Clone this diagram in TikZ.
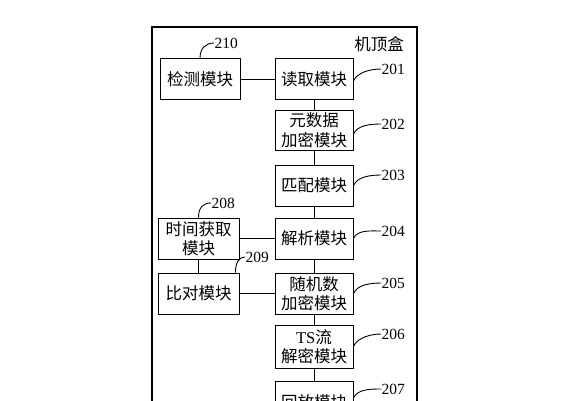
\documentclass[tikz,border=0pt]{standalone}
\usepackage{fontspec}
\setmainfont{Liberation Serif}
\newfontfamily\cjk{Noto Sans CJK SC}
\usetikzlibrary{positioning}

\tikzset{
  module/.style={draw, line width=0.9pt, minimum width=78pt, minimum height=41pt,
    inner sep=1pt, align=center, font=\cjk\fontsize{16.5}{19.5}\selectfont},
  leader/.style={line width=0.9pt},
  tag/.style={anchor=west, inner sep=0.5pt, font=\fontsize{15.5}{17}\selectfont},
}

\begin{document}
\begin{tikzpicture}[x=1pt,y=-1pt]
    \useasboundingbox (0,0) rectangle (583,400);
    \clip (0,0) rectangle (583,400);

    % Set-top box frame
    \draw[line width=1.2pt] (152,27) rectangle (417,440);
    \node[font=\cjk\fontsize{16.5}{17}\selectfont, inner sep=0pt] (stb) at (379,44) {机顶盒};

    % Main chain
    \node[module] (read)  at (314,79)    {读取模块};
    \node[module, minimum height=40pt] (meta) at (314,130) {元数据\\加密模块};
    \node[module] (match) at (314,185.5) {匹配模块};
    \node[module] (parse) at (314,238.5) {解析模块};
    \node[module] (rand)  at (314,293.5) {随机数\\加密模块};
    \node[module, minimum height=43pt] (ts) at (314,346.5) {{\rmfamily TS}流\\解密模块};
    \node[module, minimum height=42pt] (play) at (314,402) {回放模块};

    % Side modules
    \node[module, minimum width=80pt] (detect) at (200,79) {检测模块};
    \node[module, minimum width=81pt] (timer) at (198.5,238.5) {时间获取\\模块};
    \node[module, minimum width=81pt] (cmp) at (198.5,293.5) {比对模块};

    % Links
    \draw[leader] (read) -- (meta);
    \draw[leader] (meta) -- (match);
    \draw[leader] (match) -- (parse);
    \draw[leader] (parse) -- (rand);
    \draw[leader] (rand) -- (ts);
    \draw[leader] (ts) -- (play);
    \draw[leader] (detect) -- (read);
    \draw[leader] (timer) -- (parse);
    \draw[leader] (cmp) -- (rand);
    \draw[leader] (timer) -- (cmp);

    % Reference numerals
    \foreach \mname/\num/\ty/\sy in {read/201/69/2, meta/202/124/4, match/203/175/0,
        parse/204/231/0, rand/205/283/0, ts/206/334/0, play/207/389/-4} {
        \node[tag] (n\num) at (381,\ty) {\num};
        \draw[leader] (\mname.east) ++(0,\sy) .. controls +(4,-9) and +(-10,0) .. (n\num.west);
    }
    \node[tag] (n210) at (214,43) {210};
    \draw[leader] (detect.north) .. controls +(0,-10) and +(-8,0) .. (n210.west);
    \node[tag] (n208) at (211,203) {208};
    \draw[leader] (timer.north) .. controls +(0,-10) and +(-8,0) .. (n208.west);
    \node[tag] (n209) at (245,257) {209};
    \draw[leader] ([xshift=-4pt]cmp.north east) .. controls +(0,-10) and +(-6,0) .. (n209.west);
\end{tikzpicture}
\end{document}
